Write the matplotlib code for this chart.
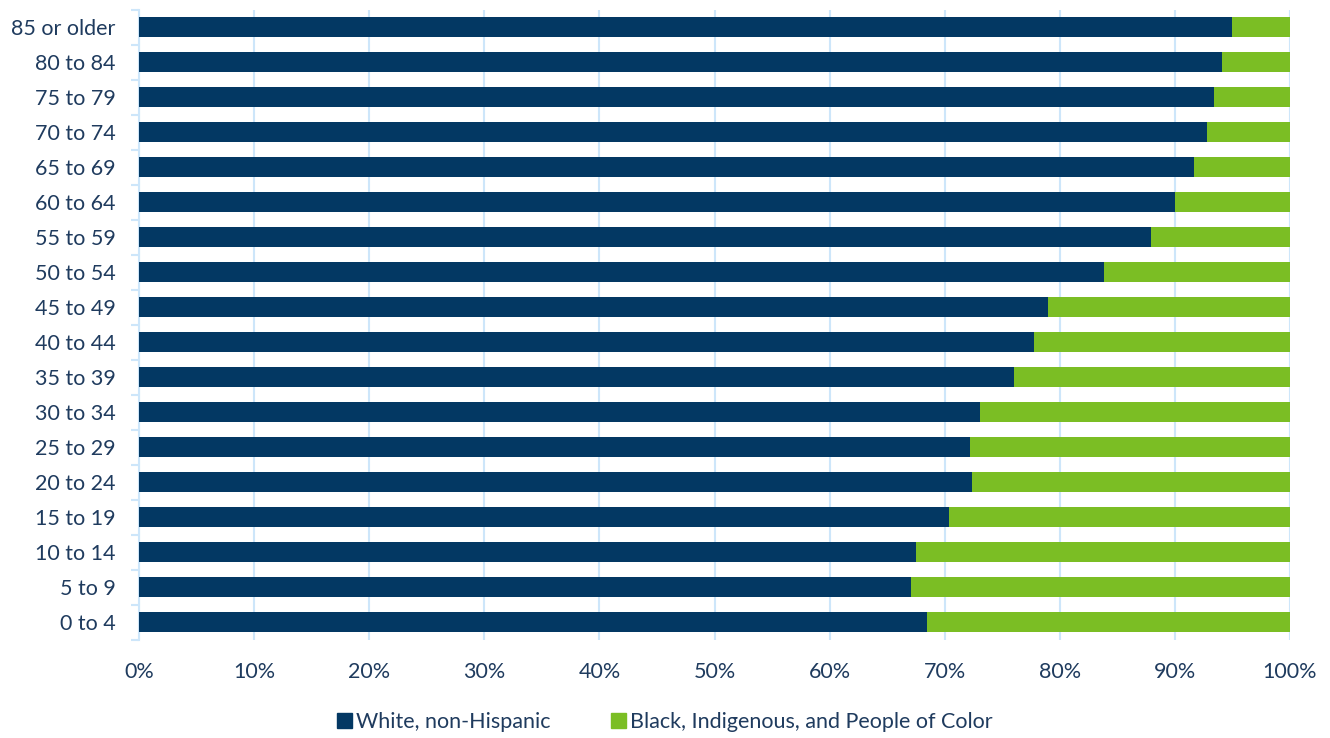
import matplotlib.pyplot as plt
import numpy as np
from matplotlib.ticker import FuncFormatter
from matplotlib.patches import Patch

age_groups = ["0 to 4", "5 to 9", "10 to 14", "15 to 19", "20 to 24", "25 to 29",
              "30 to 34", "35 to 39", "40 to 44", "45 to 49", "50 to 54", "55 to 59",
              "60 to 64", "65 to 69", "70 to 74", "75 to 79", "80 to 84", "85 or older"]
white_pct = [68.5, 67.1, 67.5, 70.4, 72.4, 72.2, 73.1, 76.0, 77.8, 79.0, 83.8, 87.9,
             90.0, 91.7, 92.8, 93.4, 94.1, 95.0]
bipoc_pct = [100 - v for v in white_pct]

navy = "#033863"
green = "#7BBE24"
text_c = "#1F3B5E"
grid_c = "#CDE6FA"

plt.rcParams["font.family"] = ["Lato", "DejaVu Sans"]

fig = plt.figure(figsize=(13.3, 7.38), dpi=100)
ax = fig.add_axes([139 / 1330, 1 - 639.5 / 738, (1290 - 139) / 1330, (639.5 - 9.5) / 738])

y = np.arange(len(age_groups))
ax.barh(y, white_pct, height=0.55, color=navy, zorder=3)
ax.barh(y, bipoc_pct, left=white_pct, height=0.55, color=green, zorder=3)

ax.set_xlim(0, 100)
ax.set_ylim(-0.5, len(age_groups) - 0.5)
ax.set_xticks(np.arange(0, 101, 10))
ax.xaxis.set_major_formatter(FuncFormatter(lambda v, _: f"{v:.0f}%"))
ax.set_yticks(y)
ax.set_yticklabels(age_groups)
ax.set_yticks(np.arange(-0.5, len(age_groups), 1), minor=True)

ax.grid(axis="x", color=grid_c, linewidth=1.5, zorder=0)
for s in ["top", "right", "bottom"]:
    ax.spines[s].set_visible(False)
ax.spines["left"].set_color(grid_c)
ax.spines["left"].set_linewidth(1.5)

ax.tick_params(axis="x", length=0, labelsize=15.5, labelcolor=text_c, pad=16)
ax.tick_params(axis="y", which="major", length=0, labelsize=15.5, labelcolor=text_c, pad=17)
ax.tick_params(axis="y", which="minor", length=6, width=1.5, color=grid_c)

handles = [Patch(color=navy, label="White, non-Hispanic"),
           Patch(color=green, label="Black, Indigenous, and People of Color")]
fig.legend(handles=handles, loc="center", bbox_to_anchor=(0.5, 1 - 722 / 738), ncol=2,
           frameon=False, fontsize=15.5, labelcolor=text_c, handlelength=0.7,
           handleheight=0.7, handletextpad=0.2, columnspacing=2.8)

fig.savefig("out.png", dpi=100)
